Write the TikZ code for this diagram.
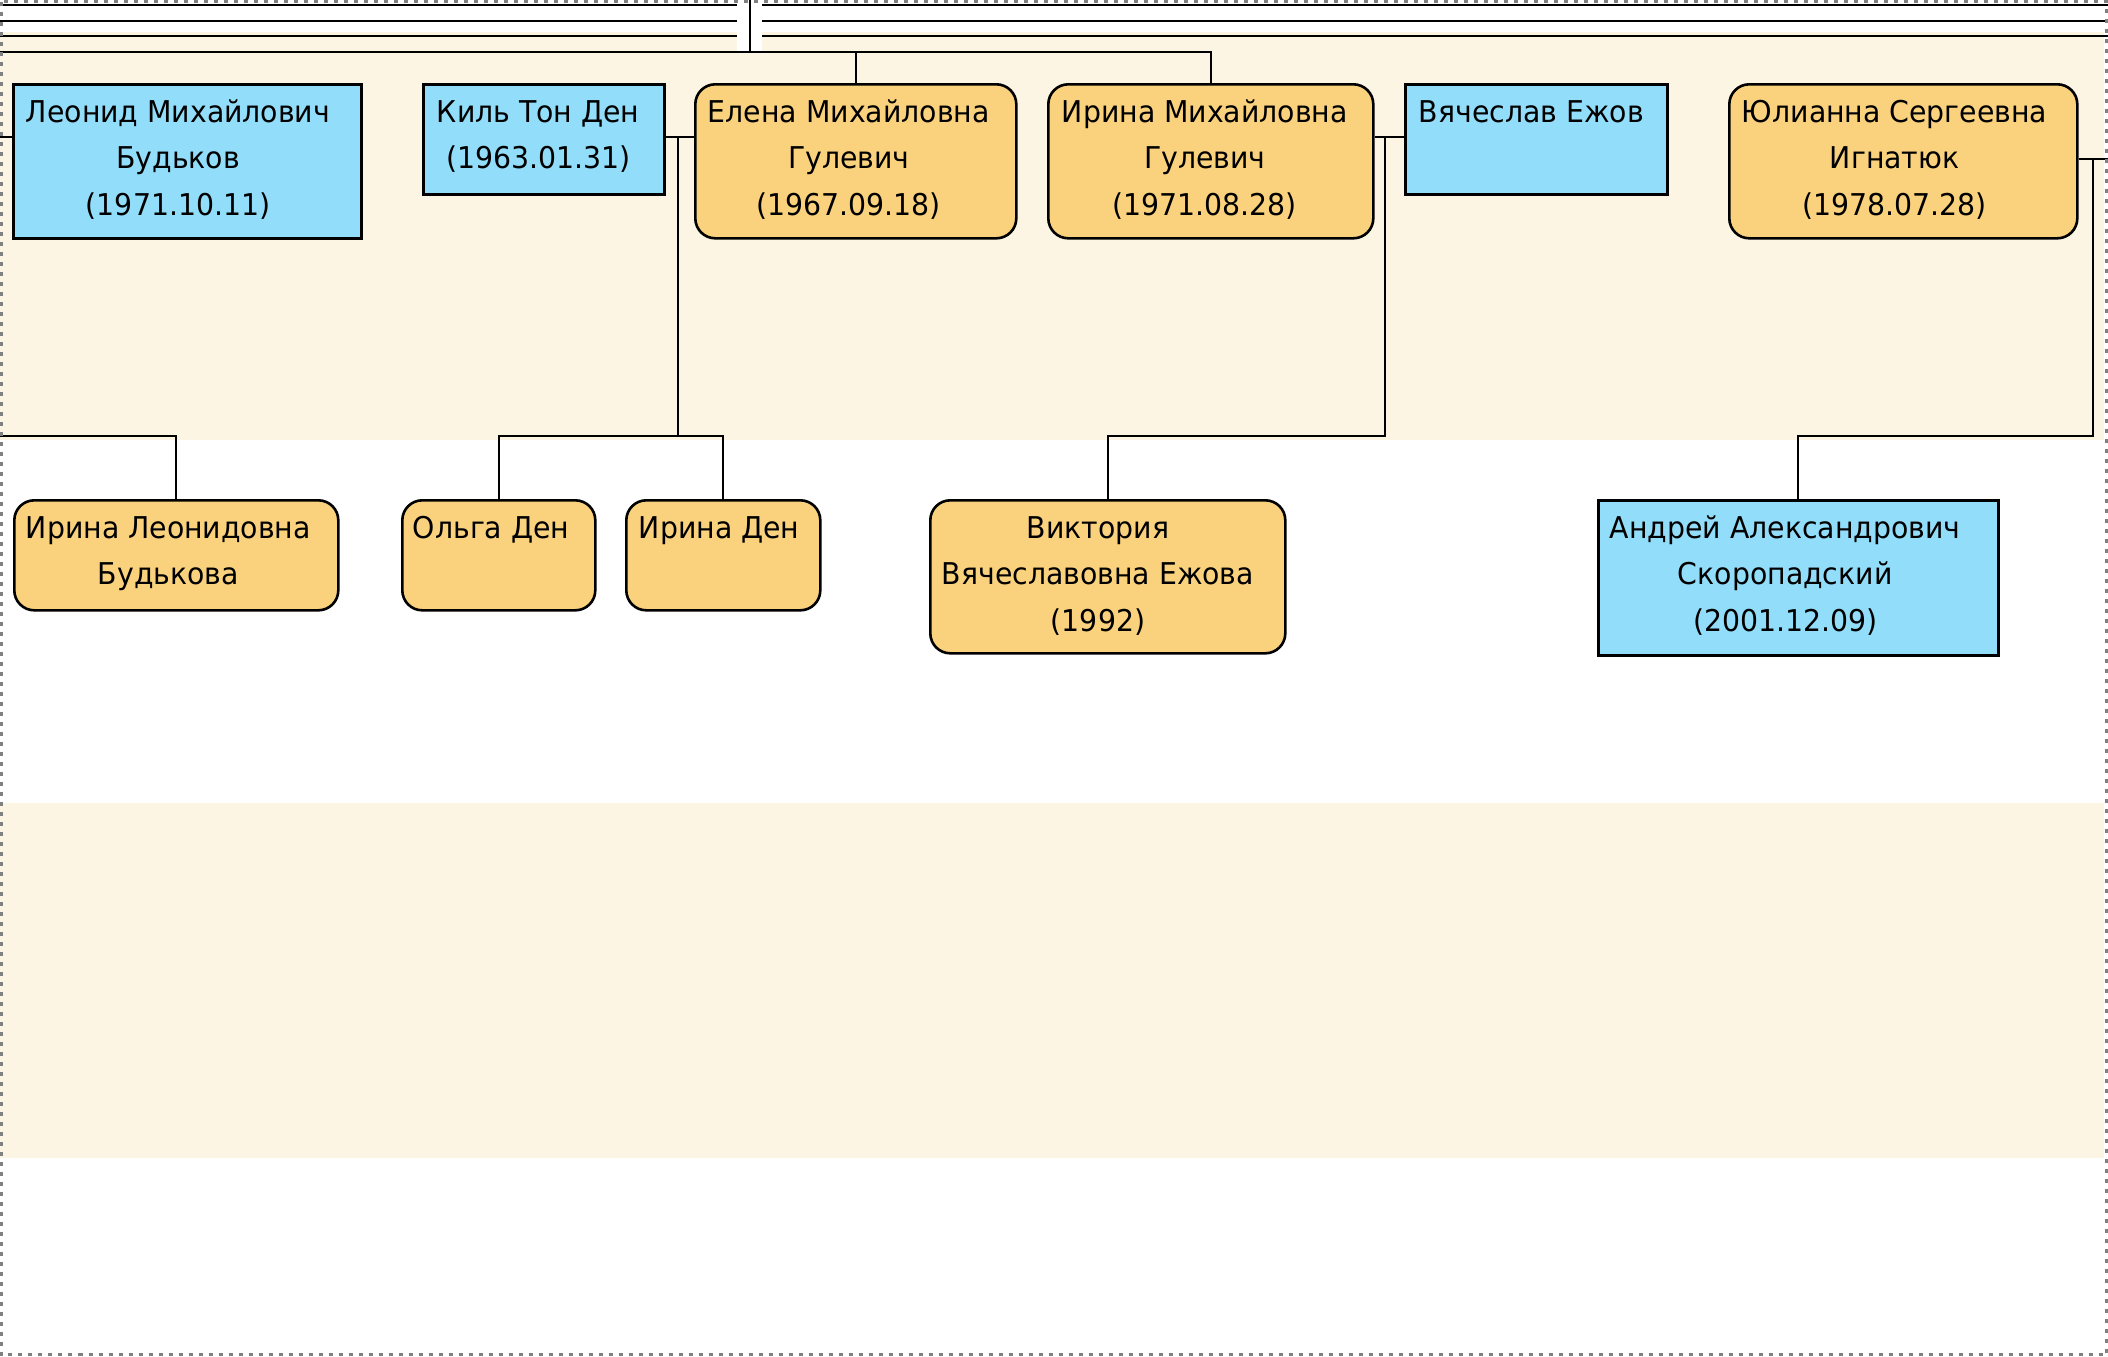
\documentclass[tikz,border=0pt]{standalone}
\usepackage{fontspec}
\setmainfont{DejaVu Sans Condensed}[FakeStretch=1.05]
\usepackage{tikz}
\usetikzlibrary{positioning,calc}
\definecolor{malefill}{RGB}{146,221,249}
\definecolor{femalefill}{RGB}{250,210,125}
\definecolor{bandfill}{RGB}{253,245,228}
\definecolor{framegray}{RGB}{128,128,128}

\begin{document}
\begin{tikzpicture}[x=0.5pt, y=-0.5pt, line width=0.9pt,
	male/.style={draw=black, line width=1.3pt, fill=malefill, rectangle, anchor=north west, inner sep=0pt},
	female/.style={male, fill=femalefill, rounded corners=10pt},
	who/.style={anchor=base west, align=center, inner sep=0pt, font=\fontsize{15}{23.35}\selectfont}]

			\useasboundingbox (0,0) rectangle (2108,1356);
			\fill[bandfill] (0,32) rectangle (2104,440);
			\fill[bandfill] (0,803) rectangle (2104,1158);
			\fill[white] (737,32) rectangle (762,52);

			\foreach \y in {5,21,36} {
				\coordinate (l\y) at (0,\y); \coordinate (m\y) at (737,\y);
				\coordinate (n\y) at (762,\y); \coordinate (r\y) at (2108,\y);
				\draw (l\y) -- (m\y); \draw (n\y) -- (r\y);
			}

			\node[male, minimum width=174pt, minimum height=77pt] (leonid) at (12,83) {};
			\node[male, minimum width=120.5pt, minimum height=55pt] (kil) at (422,83) {};
			\node[female, minimum width=160.5pt, minimum height=77pt] (elena) at (694,83) {};
			\node[female, minimum width=162.5pt, minimum height=77pt] (irinaM) at (1047,83) {};
			\node[male, minimum width=131pt, minimum height=55pt] (vyach) at (1404,83) {};
			\node[female, minimum width=174pt, minimum height=77pt] (yulia) at (1728,83) {};

			\node[female, minimum width=162pt, minimum height=55pt] (irinaL) at (13,499) {};
			\node[female, minimum width=96.5pt, minimum height=55pt] (olga) at (401,499) {};
			\node[female, minimum width=97pt, minimum height=55pt] (irinaD) at (625,499) {};
			\node[female, minimum width=177.5pt, minimum height=76.5pt] (viktoria) at (929,499) {};
			\node[male, minimum width=200pt, minimum height=77.5pt] (andrey) at (1597,499) {};

			\node[who] (leonid-t) at ([shift={(13,132.4)}]leonid.north west) {Леонид Михайлович\\Будьков\\(1971.10.11)};
			\node[who] (kil-t) at ([shift={(14,85.7)}]kil.north west) {Киль Тон Ден\\(1963.01.31)};
			\node[who] (elena-t) at ([shift={(13,132.4)}]elena.north west) {Елена Михайловна\\Гулевич\\(1967.09.18)};
			\node[who] (irinaM-t) at ([shift={(14,132.4)}]irinaM.north west) {Ирина Михайловна\\Гулевич\\(1971.08.28)};
			\node[who] (vyach-t) at ([shift={(14,39)}]vyach.north west) {Вячеслав Ежов};
			\node[who] (yulia-t) at ([shift={(13,132.4)}]yulia.north west) {Юлианна Сергеевна\\Игнатюк\\(1978.07.28)};
			\node[who] (irinaL-t) at ([shift={(12,85.7)}]irinaL.north west) {Ирина Леонидовна\\Будькова};
			\node[who] (olga-t) at ([shift={(11,39)}]olga.north west) {Ольга Ден};
			\node[who] (irinaD-t) at ([shift={(13,39)}]irinaD.north west) {Ирина Ден};
			\node[who] (viktoria-t) at ([shift={(12,132.4)}]viktoria.north west) {Виктория\\Вячеславовна Ежова\\(1992)};
			\node[who] (andrey-t) at ([shift={(12,132.4)}]andrey.north west) {Андрей Александрович\\Скоропадский\\(2001.12.09)};

			\coordinate (root) at (750,0); \coordinate (sibs) at (0,52);
			\draw (root) -- (root |- sibs);
			\draw (sibs) -| (irinaM.north);
			\draw (elena.north) -- (elena.north |- sibs);

			\coordinate (sp1) at (0,137); \coordinate (sp2) at (678,137);
			\coordinate (sp3) at (1385,137); \coordinate (sp4) at (2093,159);
			\coordinate (sp4r) at (2108,159); \coordinate (kids) at (0,436);
			\draw (sp1) -- (sp1 -| leonid.west);
			\draw (kil.east |- sp2) -- (elena.west |- sp2);
			\draw (irinaM.east |- sp3) -- (vyach.west |- sp3);
			\draw (yulia.east |- sp4) -- (sp4r);

			\draw (kids) -| (irinaL.north);
			\draw (sp2) -- (sp2 |- kids);
			\draw (olga.north) |- (irinaD.north |- kids) -- (irinaD.north);
			\draw (sp3) -- (sp3 |- kids) -| (viktoria.north);
			\draw (sp4) -- (sp4 |- kids) -| (andrey.north);

			\draw[framegray, line width=1.5pt, dash pattern=on 2pt off 3pt] (1.5,1.5) rectangle (2106.5,1354.5);
		\end{tikzpicture}
\end{document}
